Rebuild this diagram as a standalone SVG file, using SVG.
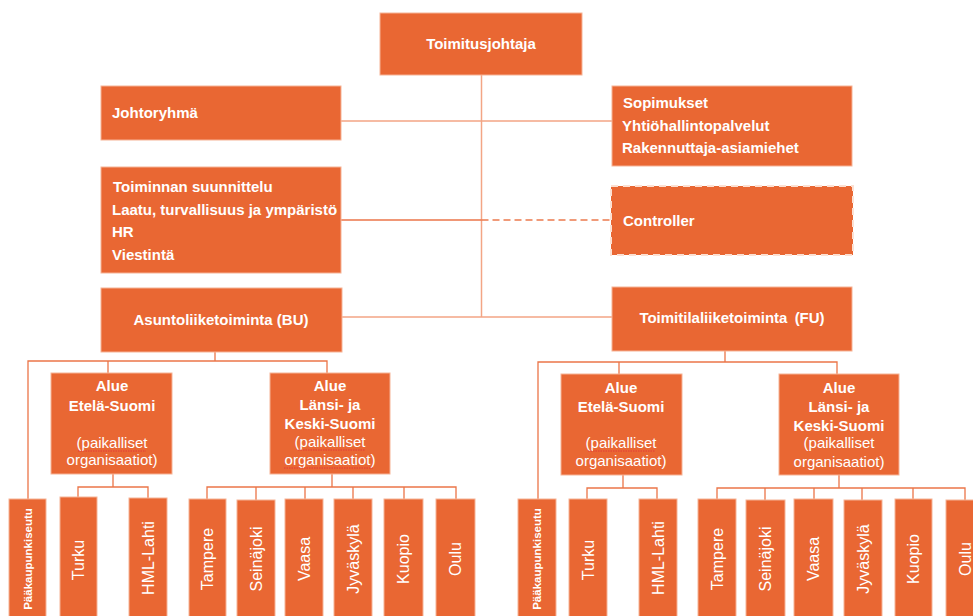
<svg xmlns="http://www.w3.org/2000/svg" width="973" height="616" viewBox="0 0 973 616">
<style>
.box{fill:#E96733;stroke:#F6B396;stroke-width:1}
.dbox{fill:#E96733;stroke:#FCE0D2;stroke-width:2;stroke-dasharray:7 5}
.t{font-family:"Liberation Sans",Arial,sans-serif;fill:#FFFFFF;font-size:15px;font-weight:bold}
.c{text-anchor:middle}
.r{font-weight:normal}
.v{font-family:"Liberation Sans",Arial,sans-serif;fill:#FFFFFF;font-size:16px;text-anchor:middle}
.vs{font-family:"Liberation Sans",Arial,sans-serif;fill:#FFFFFF;font-size:11.5px;font-weight:bold;text-anchor:middle}
.lt{fill:none;stroke:#F3A585;stroke-width:1.5}
.ln{fill:none;stroke:#EB7548;stroke-width:1.3}
.dl{fill:none;stroke:#EC7A4D;stroke-width:1.3;stroke-dasharray:7 4}
.sq{fill:none;stroke:#E0303A;stroke-width:0.8;stroke-dasharray:1.5 1}
</style>
<g id="connectors">
<path class="lt" d="M481.5 75 V317"/>
<path class="lt" d="M341 121 H612"/>
<path class="ln" d="M341 220 H481.5"/>
<path class="dl" d="M481.5 220 H611"/>
<path class="lt" d="M342 317 H612"/>
<path class="ln" d="M215 352 V361 M28 499 V361 H327 V373 M108 361 V373"/>
<path class="ln" d="M725 351 V362 M538 499 V362 H837 V374 M619 362 V374"/>
<path class="ln" d="M113 474 V487 M78 497 V487 H148 V498"/>
<path class="ln" d="M332 474 V487 M207 499 V487 H456 V499 M256 487 V500 M305 487 V499 M353 487 V499 M404 487 V499"/>
<path class="ln" d="M623 475 V488 M587 499 V488 H657 V499"/>
<path class="ln" d="M839 475 V488 M717 499 V488 H965 V500 M765 488 V500 M814 488 V499 M862 488 V500 M913 488 V499"/>
</g>
<g id="toimitusjohtaja">
<rect class="box" x="380" y="13" width="202" height="62"/>
<text class="t c" x="481" y="49">Toimitusjohtaja</text>
</g>
<g id="johtoryhma">
<rect class="box" x="101" y="86" width="240" height="54"/>
<text class="t" x="112" y="118">Johtoryhmä</text>
</g>
<g id="sopimukset">
<rect class="box" x="612" y="86" width="240" height="80"/>
<text class="t" x="623" y="108">Sopimukset</text>
<text class="t" x="622" y="131">Yhtiöhallintopalvelut</text>
<text class="t" x="622" y="153">Rakennuttaja-asiamiehet</text>
</g>
<g id="toiminnan">
<rect class="box" x="101" y="167" width="240" height="106"/>
<text class="t" x="113" y="192">Toiminnan suunnittelu</text>
<text class="t" x="112" y="215">Laatu, turvallisuus ja ympäristö</text>
<text class="t" x="112" y="237">HR</text>
<text class="t" x="112" y="260">Viestintä</text>
</g>
<g id="controller">
<rect class="dbox" x="611" y="186" width="242" height="69"/>
<text class="t" x="623" y="226">Controller</text>
</g>
<g id="bu">
<rect class="box" x="101" y="288" width="241" height="64"/>
<text class="t c" x="221" y="325">Asuntoliiketoiminta (BU)</text>
</g>
<g id="fu">
<rect class="box" x="612" y="287" width="240" height="64"/>
<text class="t c" x="732" y="323">Toimitilaliiketoiminta <tspan dx="3">(FU)</tspan></text>
</g>
<g id="bu-etela">
<rect class="box" x="51" y="373" width="121" height="101"/>
<text class="t c" x="112" y="391">Alue</text>
<text class="t c" x="112" y="411">Etelä-Suomi</text>
<text class="t c r" x="112" y="448">(paikalliset</text>
<text class="t c r" x="112" y="465">organisaatiot)</text>
<path class="sq" d="M78 451 H146"/>
</g>
<g id="bu-lansi">
<rect class="box" x="270" y="373" width="120" height="101"/>
<text class="t c" x="330" y="391">Alue</text>
<text class="t c" x="330" y="410">Länsi- ja</text>
<text class="t c" x="330" y="429">Keski-Suomi</text>
<text class="t c r" x="330" y="447">(paikalliset</text>
<text class="t c r" x="330" y="465">organisaatiot)</text>
<path class="sq" d="M298 450 H365 M284 468 H374"/>
</g>
<g id="fu-etela">
<rect class="box" x="561" y="374" width="121" height="101"/>
<text class="t c" x="621" y="393">Alue</text>
<text class="t c" x="621" y="412">Etelä-Suomi</text>
<text class="t c r" x="621" y="448">(paikalliset</text>
<text class="t c r" x="621" y="466">organisaatiot)</text>
<path class="sq" d="M588 451 H655"/>
</g>
<g id="fu-lansi">
<rect class="box" x="779" y="374" width="120" height="101"/>
<text class="t c" x="839" y="393">Alue</text>
<text class="t c" x="839" y="412">Länsi- ja</text>
<text class="t c" x="839" y="431">Keski-Suomi</text>
<text class="t c r" x="839" y="448">(paikalliset</text>
<text class="t c r" x="839" y="467">organisaatiot)</text>
</g>
<g id="bu-paakaupunkiseutu"><rect class="box" x="9" y="499" width="37" height="122"/><text class="vs" transform="translate(31.5 559) rotate(-90)">Pääkaupunkiseutu</text></g>
<g id="bu-turku"><rect class="box" x="60" y="497" width="37" height="124"/><text class="v" transform="translate(84 560) rotate(-90)">Turku</text></g>
<g id="bu-hml"><rect class="box" x="129" y="498" width="38" height="123"/><text class="v" transform="translate(153.5 558) rotate(-90)">HML-Lahti</text></g>
<g id="bu-tampere"><rect class="box" x="189" y="499" width="37" height="122"/><text class="v" transform="translate(213 559) rotate(-90)">Tampere</text></g>
<g id="bu-seinajoki"><rect class="box" x="237" y="500" width="38" height="121"/><text class="v" transform="translate(261.5 559) rotate(-90)">Seinäjoki</text></g>
<g id="bu-vaasa"><rect class="box" x="285" y="499" width="38" height="122"/><text class="v" transform="translate(309.5 559) rotate(-90)">Vaasa</text></g>
<g id="bu-jyvaskyla"><rect class="box" x="334" y="499" width="38" height="122"/><text class="v" transform="translate(358.5 559) rotate(-90)">Jyväskylä</text></g>
<g id="bu-kuopio"><rect class="box" x="384" y="499" width="39" height="122"/><text class="v" transform="translate(409 559) rotate(-90)">Kuopio</text></g>
<g id="bu-oulu"><rect class="box" x="436" y="499" width="39" height="122"/><text class="v" transform="translate(461 559) rotate(-90)">Oulu</text></g>
<g id="fu-paakaupunkiseutu"><rect class="box" x="518" y="499" width="38" height="122"/><text class="vs" transform="translate(541 559) rotate(-90)">Pääkaupunkiseutu</text></g>
<g id="fu-turku"><rect class="box" x="569" y="499" width="38" height="122"/><text class="v" transform="translate(593.5 560) rotate(-90)">Turku</text></g>
<g id="fu-hml"><rect class="box" x="639" y="499" width="38" height="122"/><text class="v" transform="translate(663.5 558) rotate(-90)">HML-Lahti</text></g>
<g id="fu-tampere"><rect class="box" x="698" y="499" width="38" height="122"/><text class="v" transform="translate(722.5 559) rotate(-90)">Tampere</text></g>
<g id="fu-seinajoki"><rect class="box" x="746" y="500" width="39" height="121"/><text class="v" transform="translate(771 559) rotate(-90)">Seinäjoki</text></g>
<g id="fu-vaasa"><rect class="box" x="794" y="499" width="39" height="122"/><text class="v" transform="translate(819 559) rotate(-90)">Vaasa</text></g>
<g id="fu-jyvaskyla"><rect class="box" x="844" y="500" width="38" height="121"/><text class="v" transform="translate(868.5 559) rotate(-90)">Jyväskylä</text></g>
<g id="fu-kuopio"><rect class="box" x="895" y="499" width="37" height="122"/><text class="v" transform="translate(919 559) rotate(-90)">Kuopio</text></g>
<g id="fu-oulu"><rect class="box" x="946" y="500" width="38" height="121"/><text class="v" transform="translate(970.5 559) rotate(-90)">Oulu</text></g>
</svg>
